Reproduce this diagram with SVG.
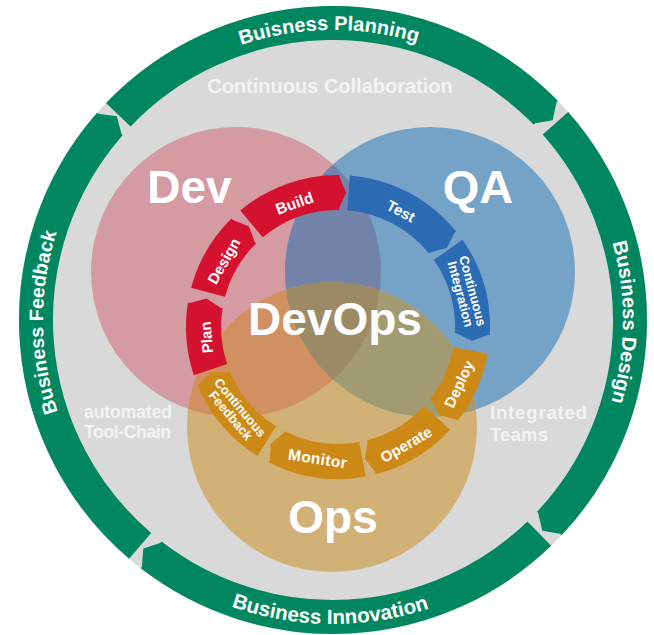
<svg xmlns="http://www.w3.org/2000/svg" width="654" height="635" viewBox="0 0 654 635">
<style>
.t{font-family:"Liberation Sans",Arial,Helvetica,sans-serif;font-weight:bold;fill:#fff}
.soft{fill:#f3f3f3}
.ring{fill:none;stroke:#00875f;stroke-width:34}
.gtip{fill:#00875f}
.seg{fill:none;stroke-width:35}
.red{stroke:#d4112f}.redf{fill:#d4112f}
.blue{stroke:#2b6cb4}.bluef{fill:#2b6cb4}
.org{stroke:#cd8916}.orgf{fill:#cd8916}
</style>
<defs>
<clipPath id="cDev"><circle cx="236" cy="272" r="145"/></clipPath>
<clipPath id="cQA"><circle cx="430" cy="272" r="145"/></clipPath>
<path id="pTop" d="M127.94,114.94 A290,290 0 0 1 538.06,114.94"/>
<path id="pBot" d="M118.04,534.96 A304,304 0 0 0 547.96,534.96"/>
<path id="pLeft" d="M127.94,525.06 A290,290 0 0 1 127.94,114.94"/>
<path id="pRight" d="M538.06,114.94 A290,290 0 0 1 538.06,525.06"/>
<polygon id="gTip" points="280,-1 314,-1 296.8,10.4"/>
<polygon id="cTip" points="117,-0.8 152,-0.8 134.3,7.0"/>
</defs>

<circle id="disk" cx="333" cy="320" r="314" fill="#d9d9d9"/>

<g id="business-planning">
<circle class="ring" r="297" stroke-dasharray="476.9 2000" transform="translate(333,320) rotate(223.7)"/>
<use href="#gTip" class="gtip" transform="translate(333,320) rotate(315.7)"/>
<text class="t" font-size="20"><textPath href="#pTop" startOffset="49.1%" text-anchor="middle">Buisness Planning</textPath></text>
</g>
<g id="business-design">
<circle class="ring" r="297" stroke-dasharray="439 2000" transform="translate(333,320) rotate(318.5)"/>
<use href="#gTip" class="gtip" transform="translate(333,320) rotate(403.2)"/>
<text class="t" font-size="20"><textPath href="#pRight" startOffset="50.5%" text-anchor="middle">Business Design</textPath></text>
</g>
<g id="business-innovation">
<circle class="ring" r="297" stroke-dasharray="423.5 2000" transform="translate(333,320) rotate(46)"/>
<use href="#gTip" class="gtip" transform="translate(333,320) rotate(127.7)"/>
<text class="t" font-size="20.6"><textPath href="#pBot" startOffset="49.4%" text-anchor="middle">Business Innovation</textPath></text>
</g>
<g id="business-feedback">
<circle class="ring" r="297" stroke-dasharray="470.7 2000" transform="translate(333,320) rotate(130.5)"/>
<use href="#gTip" class="gtip" transform="translate(333,320) rotate(221.3)"/>
<text class="t" font-size="19.5"><textPath href="#pLeft" startOffset="49.5%" text-anchor="middle">Business Feedback</textPath></text>
</g>

<g id="captions">
<text class="t soft" x="330" y="93" font-size="20" text-anchor="middle">Continuous Collaboration</text>
<text class="t soft" font-size="17.5"><tspan x="84" y="418" textLength="88">automated</tspan><tspan x="84" y="438" textLength="87">Tool-Chain</tspan></text>
<text class="t soft" font-size="18.5"><tspan x="490" y="419" textLength="97">Integrated</tspan><tspan x="490" y="441" textLength="58">Teams</tspan></text>
</g>

<g id="venn">
<circle id="dev" cx="236" cy="272" r="145" fill="#d49ba2"/>
<circle id="qa" cx="430" cy="272" r="145" fill="#75a3c8"/>
<circle id="ops" cx="332" cy="427" r="145" fill="#d2b176"/>
<circle cx="430" cy="272" r="145" fill="#7383aa" clip-path="url(#cDev)"/>
<circle cx="332" cy="427" r="145" fill="#d09060" clip-path="url(#cDev)"/>
<circle cx="332" cy="427" r="145" fill="#a09b73" clip-path="url(#cQA)"/>
<g clip-path="url(#cDev)"><circle cx="332" cy="427" r="145" fill="#9c8a66" clip-path="url(#cQA)"/></g>
</g>

<g id="cycle">
<g id="plan">
<circle class="seg red" r="134.5" stroke-dasharray="65 1000" transform="translate(338,327) rotate(161.5)"/>
<use href="#cTip" class="redf" transform="translate(338,327) rotate(189.2)"/>
<text class="t" font-size="15" text-anchor="middle" dy="5.4" transform="translate(206.4,337.4) rotate(-94.5)">Plan</text>
</g>
<g id="design">
<circle class="seg red" r="134.5" stroke-dasharray="71.6 1000" transform="translate(338,327) rotate(195)"/>
<use href="#cTip" class="redf" transform="translate(338,327) rotate(225.5)"/>
<text class="t" font-size="15" text-anchor="middle" dy="5.4" transform="translate(223.7,261) rotate(-60)">Design</text>
</g>
<g id="build">
<circle class="seg red" r="134.5" stroke-dasharray="95.1 1000" transform="translate(338,327) rotate(230)"/>
<use href="#cTip" class="redf" transform="translate(338,327) rotate(270.5)"/>
<text class="t" font-size="15.5" text-anchor="middle" dy="5.5" transform="translate(294.5,203) rotate(-19.5)">Build</text>
</g>
<g id="test">
<circle class="seg blue" r="134.5" stroke-dasharray="109.2 1000" transform="translate(338,327) rotate(274.5)"/>
<use href="#cTip" class="bluef" transform="translate(338,327) rotate(321)"/>
<text class="t" font-size="15" text-anchor="middle" dy="5.4" transform="translate(401,211) rotate(28.5)">Test</text>
</g>
<g id="continuous-integration">
<circle class="seg blue" r="134.5" stroke-dasharray="89.2 1000" transform="translate(338,327) rotate(325)"/>
<use href="#cTip" class="bluef" transform="translate(338,327) rotate(363)"/>
<text class="t" font-size="13" text-anchor="middle" transform="translate(467.4,292.3) rotate(75)"><tspan x="0" y="-1">Continuous</tspan><tspan x="0" y="11.5">Integration</tspan></text>
</g>
<g id="deploy">
<circle class="seg org" r="134.5" stroke-dasharray="65.7 1000" transform="translate(338,327) rotate(10)"/>
<use href="#cTip" class="orgf" transform="translate(338,327) rotate(38)"/>
<text class="t" font-size="15" text-anchor="middle" dy="5.4" transform="translate(459,384) rotate(-65)">Deploy</text>
</g>
<g id="operate">
<circle class="seg org" r="134.5" stroke-dasharray="77.5 1000" transform="translate(338,327) rotate(42.5)"/>
<use href="#cTip" class="orgf" transform="translate(338,327) rotate(75.5)"/>
<text class="t" font-size="15" text-anchor="middle" dy="5.4" transform="translate(406,444.5) rotate(-30)">Operate</text>
</g>
<g id="monitor">
<circle class="seg org" r="134.5" stroke-dasharray="88 1000" transform="translate(338,327) rotate(79.5)"/>
<use href="#cTip" class="orgf" transform="translate(338,327) rotate(117)"/>
<text class="t" font-size="15.5" text-anchor="middle" dy="5.5" textLength="59" transform="translate(317.5,458.5) rotate(8.5)">Monitor</text>
</g>
<g id="continuous-feedback">
<circle class="seg org" r="134.5" stroke-dasharray="83.3 1000" transform="translate(338,327) rotate(122)"/>
<use href="#cTip" class="orgf" transform="translate(338,327) rotate(157.5)"/>
<text class="t" font-size="13" text-anchor="middle" transform="translate(236,411) rotate(50)"><tspan x="0" y="-1">Continuous</tspan><tspan x="0" y="11.5">Feedback</tspan></text>
</g>
</g>

<g id="titles">
<text class="t" x="189.5" y="203" font-size="46" text-anchor="middle">Dev</text>
<text class="t" x="478" y="203" font-size="47" text-anchor="middle">QA</text>
<text class="t" x="335" y="335" font-size="46" text-anchor="middle">DevOps</text>
<text class="t" x="333" y="533" font-size="46" text-anchor="middle">Ops</text>
</g>
<g id="connectors"/>
</svg>
